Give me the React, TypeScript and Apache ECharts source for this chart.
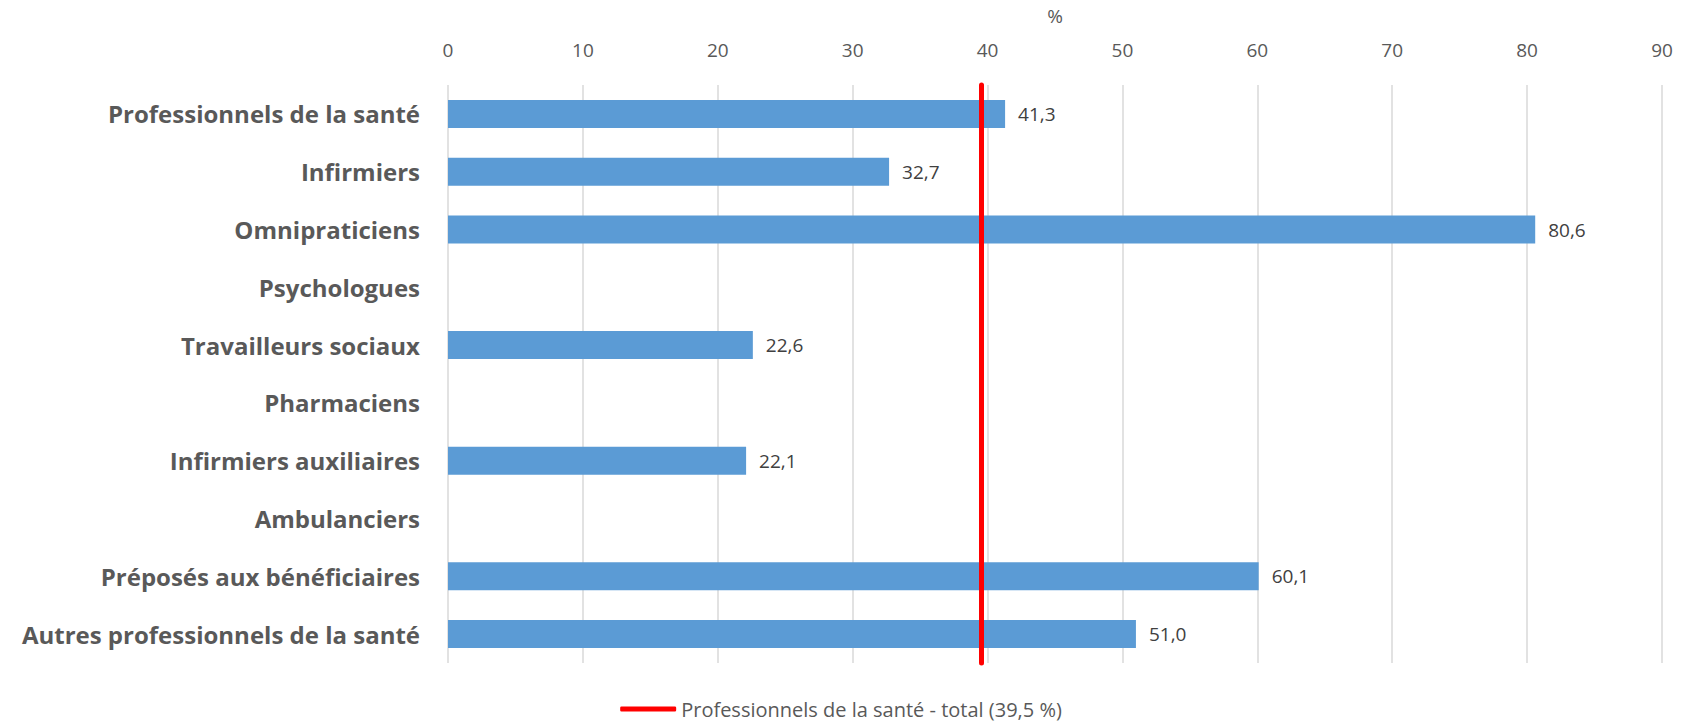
import React, { useEffect, useRef } from "react";
import * as echarts from "echarts";

const categories = [
  "Professionnels de la santé",
  "Infirmiers",
  "Omnipraticiens",
  "Psychologues",
  "Travailleurs sociaux",
  "Pharmaciens",
  "Infirmiers auxiliaires",
  "Ambulanciers",
  "Préposés aux bénéficiaires",
  "Autres professionnels de la santé",
];
const values: (number | null)[] = [41.3, 32.7, 80.6, null, 22.6, null, 22.1, null, 60.1, 51.0];
const totalName = "Professionnels de la santé - total (39,5 %)";
const totalValue = 39.5;
const axisMin = 0;
const axisMax = 90;
const axisInterval = 10;

export default function App() {
  const ref = useRef<HTMLDivElement>(null);
  useEffect(() => {
    if (!ref.current) return;
    const chart = echarts.init(ref.current, undefined, { renderer: "svg" });
    const font = "'Open Sans', sans-serif";
    chart.setOption({
      animation: false,
      textStyle: { fontFamily: font },
      grid: { left: 448, right: 20, top: 85, bottom: 62, containLabel: false },
      legend: {
        bottom: 1,
        left: "center",
        data: [{ name: totalName, icon: "roundRect" }],
        itemWidth: 56,
        itemHeight: 5,
        itemGap: 4,
        textStyle: { color: "#595959", fontSize: 20, fontFamily: font },
        selectedMode: false,
      },
      xAxis: {
        type: "value",
        position: "top",
        min: axisMin,
        max: axisMax,
        interval: axisInterval,
        name: "%",
        nameLocation: "middle",
        nameGap: 60,
        nameTextStyle: { color: "#595959", fontSize: 19, fontFamily: font },
        axisLine: { show: false },
        axisTick: { show: false },
        axisLabel: { color: "#595959", fontSize: 19, margin: 26, fontFamily: font },
        splitLine: { show: true, lineStyle: { color: "#d9d9d9", width: 1.5 } },
      },
      yAxis: {
        type: "category",
        inverse: true,
        data: categories,
        axisLine: { show: false },
        axisTick: { show: false },
        axisLabel: {
          color: "#595959",
          fontSize: 24,
          fontWeight: "bold",
          margin: 28,
          fontFamily: font,
        },
        splitLine: { show: false },
      },
      series: [
        {
          type: "bar",
          data: values,
          barWidth: 28,
          itemStyle: { color: "#5B9BD5" },
          label: {
            show: true,
            position: "right",
            distance: 13,
            color: "#404040",
            fontSize: 19,
            fontFamily: font,
            formatter: (p: any) => (p.value == null ? "" : Number(p.value).toFixed(1).replace(".", ",")),
          },
        },
        {
          type: "line",
          name: totalName,
          data: [],
          color: "#FF0000",
          lineStyle: { color: "#FF0000", width: 5 },
          markLine: {
            silent: true,
            symbol: ["none", "none"],
            label: { show: false },
            lineStyle: { color: "#FF0000", width: 5, type: "solid", cap: "round" },
            data: [{ xAxis: totalValue }],
          },
        },
      ],
    });
    return () => chart.dispose();
  }, []);
  return (
    <div
      ref={ref}
      style={{ position: "fixed", left: 0, top: 0, width: 1682, height: 725, background: "#fff" }}
    />
  );
}
